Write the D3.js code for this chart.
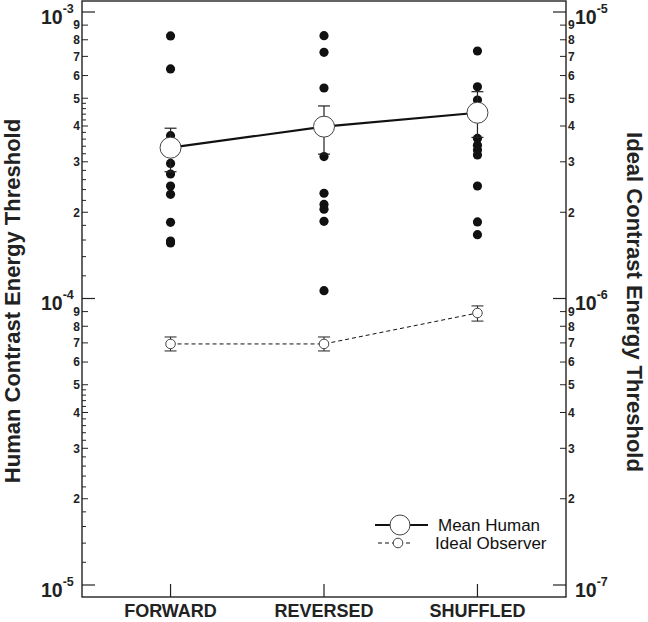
<!DOCTYPE html>
<html><head><meta charset="utf-8">
<script src="https://cdn.jsdelivr.net/npm/d3@7"></script>
<style>
html,body{margin:0;padding:0;background:#fff;}
svg text{font-family:"Liberation Sans",Arial,Helvetica,sans-serif;}
</style></head>
<body>
<script>
// ---------- data ----------
const categories = ["FORWARD", "REVERSED", "SHUFFLED"];
const humanDots = [
  [8.25e-4, 6.33e-4, 3.70e-4, 2.96e-4, 2.72e-4, 2.47e-4, 2.31e-4, 1.845e-4, 1.587e-4, 1.562e-4],
  [8.27e-4, 7.23e-4, 5.43e-4, 3.87e-4, 3.13e-4, 2.33e-4, 2.13e-4, 2.05e-4, 1.86e-4, 1.065e-4],
  [7.31e-4, 5.48e-4, 4.93e-4, 3.62e-4, 3.43e-4, 3.30e-4, 3.17e-4, 2.47e-4, 1.85e-4, 1.67e-4]
];
const humanMean = [3.36e-4, 3.98e-4, 4.45e-4];
const humanErrHi = [3.93e-4, 4.70e-4, 5.27e-4];
const humanErrLo = [2.77e-4, 3.19e-4, 3.65e-4];
const idealMean = [6.94e-7, 6.94e-7, 8.90e-7];
const idealErrHi = [7.34e-7, 7.34e-7, 9.42e-7];
const idealErrLo = [6.56e-7, 6.56e-7, 8.34e-7];
const leftDecades = [1e-5, 1e-4, 1e-3];
const leftExps = ["-5", "-4", "-3"];
const rightDecades = [1e-7, 1e-6, 1e-5];
const rightExps = ["-7", "-6", "-5"];
const digitLabels = [2, 3, 4, 5, 6, 7, 8, 9];
const minorSteps = [1.2, 1.4, 1.6, 1.8, 2.2, 2.4, 2.6, 2.8, 3.2, 3.4, 3.6, 3.8, 4.2, 4.4, 4.6, 4.8];
const legendLabels = ["Mean Human", "Ideal Observer"];
const leftTitle = "Human Contrast Energy Threshold";
const rightTitle = "Ideal Contrast Energy Threshold";

// ---------- layout ----------
const W = 648, H = 622;
const L = 82, R = 566, T = 1, B = 597;
const svg = d3.select("body").append("svg").attr("width", W).attr("height", H);

const x = d3.scalePoint().domain(categories).range([L, R]).padding(0.577);
const yL = d3.scaleLog().domain([Math.pow(10, -5.0419), Math.pow(10, -2.9616)]).range([B, T]);
const yR = d3.scaleLog().domain([Math.pow(10, -7.0419), Math.pow(10, -4.9616)]).range([B, T]);

// frame
svg.append("rect").attr("x", L).attr("y", T).attr("width", R - L).attr("height", B - T)
  .attr("fill", "none").attr("stroke", "#111").attr("stroke-width", 1.3);

// left ticks
const gL = svg.append("g");
const leftMinor = [];
[1e-5, 1e-4].forEach(d => minorSteps.forEach(m => leftMinor.push(d * m)));
gL.selectAll(".mn").data(leftMinor).join("line")
  .attr("x1", L).attr("x2", L + 4).attr("y1", d => yL(d)).attr("y2", d => yL(d))
  .attr("stroke", "#222").attr("stroke-width", 1);
const leftDigitVals = [];
[1e-5, 1e-4, 1e-3].forEach(d => digitLabels.forEach(k => { if (yL(d * k) > T + 2) leftDigitVals.push({v: d * k, k}); }));
gL.selectAll(".dg").data(leftDigitVals).join("line")
  .attr("x1", L).attr("x2", L + 6).attr("y1", d => yL(d.v)).attr("y2", d => yL(d.v))
  .attr("stroke", "#222").attr("stroke-width", 1);
gL.selectAll(".dgt").data(leftDigitVals).join("text")
  .attr("x", L - 2).attr("y", d => yL(d.v)).attr("dy", "0.36em")
  .attr("text-anchor", "end").attr("font-size", 12).attr("font-weight", "bold").attr("fill", "#222")
  .text(d => d.k);
gL.selectAll(".mj").data(leftDecades).join("line")
  .attr("x1", L).attr("x2", L + 13).attr("y1", d => yL(d)).attr("y2", d => yL(d))
  .attr("stroke", "#222").attr("stroke-width", 1.2);
const lt = gL.selectAll(".mjt").data(leftDecades).join("text")
  .attr("x", 41).attr("y", d => yL(d) + 12)
  .attr("font-size", 19.5).attr("font-weight", "bold").attr("fill", "#222");
lt.append("tspan").text("10");
lt.append("tspan").attr("dy", -11).attr("font-size", 12.5).text((d, i) => leftExps[i]);

// right ticks
const gR = svg.append("g");
const rightDigitVals = [];
[1e-7, 1e-6, 1e-5].forEach(d => digitLabels.forEach(k => { if (yR(d * k) > T + 2) rightDigitVals.push({v: d * k, k}); }));
gR.selectAll(".dg").data(rightDigitVals).join("line")
  .attr("x1", R - 6).attr("x2", R).attr("y1", d => yR(d.v)).attr("y2", d => yR(d.v))
  .attr("stroke", "#222").attr("stroke-width", 1);
gR.selectAll(".dgt").data(rightDigitVals).join("text")
  .attr("x", R + 2).attr("y", d => yR(d.v)).attr("dy", "0.36em")
  .attr("font-size", 12).attr("font-weight", "bold").attr("fill", "#222")
  .text(d => d.k);
gR.selectAll(".mj").data(rightDecades).join("line")
  .attr("x1", R - 13).attr("x2", R).attr("y1", d => yR(d)).attr("y2", d => yR(d))
  .attr("stroke", "#222").attr("stroke-width", 1.2);
const rt = gR.selectAll(".mjt").data(rightDecades).join("text")
  .attr("x", 575).attr("y", d => yR(d) + 12)
  .attr("font-size", 19.5).attr("font-weight", "bold").attr("fill", "#222");
rt.append("tspan").text("10");
rt.append("tspan").attr("dy", -11).attr("font-size", 12.5).text((d, i) => rightExps[i]);

// bottom ticks + labels
svg.selectAll(".xt").data(categories).join("line")
  .attr("x1", d => x(d)).attr("x2", d => x(d)).attr("y1", B).attr("y2", B - 13)
  .attr("stroke", "#222").attr("stroke-width", 1.2);
svg.selectAll(".xl").data(categories).join("text")
  .attr("x", d => x(d)).attr("y", 617).attr("text-anchor", "middle")
  .attr("font-size", 18).attr("font-weight", "bold").attr("fill", "#222").text(d => d);

// titles
svg.append("text").attr("transform", "translate(20,301) rotate(-90)")
  .attr("text-anchor", "middle").attr("font-size", 22).attr("font-weight", "bold").attr("fill", "#222")
  .text(leftTitle);
svg.append("text").attr("transform", "translate(627,302) rotate(90)")
  .attr("text-anchor", "middle").attr("font-size", 22).attr("font-weight", "bold").attr("fill", "#222")
  .text(rightTitle);

// individual human dots
const dots = [];
humanDots.forEach((arr, i) => arr.forEach(v => dots.push({c: categories[i], v})));
svg.selectAll(".dot").data(dots).join("circle")
  .attr("cx", d => x(d.c)).attr("cy", d => yL(d.v)).attr("r", 4.6).attr("fill", "#111");

// human error bars
const cap = 6;
categories.forEach((c, i) => {
  const g = svg.append("g").attr("stroke", "#222").attr("stroke-width", 1.2);
  g.append("line").attr("x1", x(c)).attr("x2", x(c)).attr("y1", yL(humanErrHi[i])).attr("y2", yL(humanErrLo[i]));
  g.append("line").attr("x1", x(c) - cap).attr("x2", x(c) + cap).attr("y1", yL(humanErrHi[i])).attr("y2", yL(humanErrHi[i]));
  g.append("line").attr("x1", x(c) - cap).attr("x2", x(c) + cap).attr("y1", yL(humanErrLo[i])).attr("y2", yL(humanErrLo[i]));
});
// human mean line
const lineL = d3.line().x((d, i) => x(categories[i])).y(d => yL(d));
svg.append("path").attr("d", lineL(humanMean)).attr("fill", "none").attr("stroke", "#111").attr("stroke-width", 2.2);
svg.selectAll(".hm").data(humanMean).join("circle")
  .attr("cx", (d, i) => x(categories[i])).attr("cy", d => yL(d)).attr("r", 10.5)
  .attr("fill", "#fff").attr("stroke", "#444").attr("stroke-width", 1);

// ideal observer
categories.forEach((c, i) => {
  const g = svg.append("g").attr("stroke", "#222").attr("stroke-width", 1);
  g.append("line").attr("x1", x(c)).attr("x2", x(c)).attr("y1", yR(idealErrHi[i])).attr("y2", yR(idealErrLo[i]));
  g.append("line").attr("x1", x(c) - cap).attr("x2", x(c) + cap).attr("y1", yR(idealErrHi[i])).attr("y2", yR(idealErrHi[i]));
  g.append("line").attr("x1", x(c) - cap).attr("x2", x(c) + cap).attr("y1", yR(idealErrLo[i])).attr("y2", yR(idealErrLo[i]));
});
const lineR = d3.line().x((d, i) => x(categories[i])).y(d => yR(d));
svg.append("path").attr("d", lineR(idealMean)).attr("fill", "none").attr("stroke", "#111")
  .attr("stroke-width", 1).attr("stroke-dasharray", "4,3");
svg.selectAll(".im").data(idealMean).join("circle")
  .attr("cx", (d, i) => x(categories[i])).attr("cy", d => yR(d)).attr("r", 4.8)
  .attr("fill", "#fff").attr("stroke", "#444").attr("stroke-width", 1);

// legend
const lg = svg.append("g");
lg.append("line").attr("x1", 375).attr("x2", 428).attr("y1", 525).attr("y2", 525).attr("stroke", "#111").attr("stroke-width", 2.2);
lg.append("circle").attr("cx", 400).attr("cy", 525).attr("r", 10).attr("fill", "#fff").attr("stroke", "#444");
lg.append("line").attr("x1", 378).attr("x2", 410).attr("y1", 543).attr("y2", 543).attr("stroke", "#111").attr("stroke-dasharray", "4,3");
lg.append("circle").attr("cx", 398).attr("cy", 543).attr("r", 4.8).attr("fill", "#fff").attr("stroke", "#444");
lg.append("text").attr("x", 438).attr("y", 531).attr("font-size", 17).attr("fill", "#111").text(legendLabels[0]);
lg.append("text").attr("x", 435).attr("y", 549).attr("font-size", 17).attr("fill", "#111").text(legendLabels[1]);
</script>
</body></html>
